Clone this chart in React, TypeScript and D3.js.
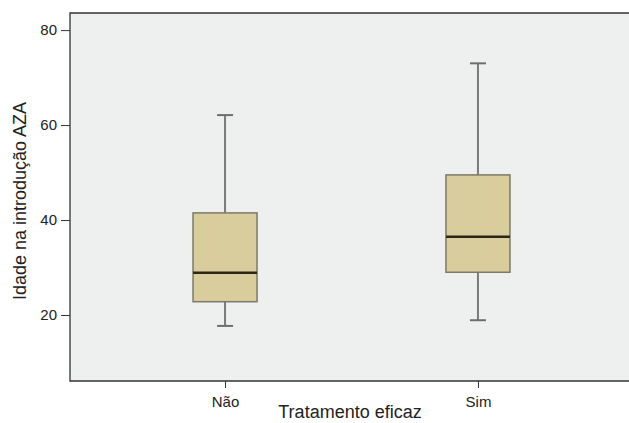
import { useRef, useEffect } from 'react'
import * as d3 from 'd3'

interface BoxStat {
  group: string
  min: number
  q1: number
  median: number
  q3: number
  max: number
}

const GROUPS = ['Não', 'Sim']
const MINS = [17.7, 18.9]
const Q1S = [22.8, 29.0]
const MEDIANS = [28.9, 36.5]
const Q3S = [41.5, 49.5]
const MAXS = [62.1, 73.0]
const Y_TICKS = [20, 40, 60, 80]

const stats: BoxStat[] = GROUPS.map((g, i) => ({
  group: g,
  min: MINS[i],
  q1: Q1S[i],
  median: MEDIANS[i],
  q3: Q3S[i],
  max: MAXS[i],
}))

export default function App() {
  const svgRef = useRef<SVGSVGElement>(null)

  useEffect(() => {
    if (!svgRef.current) return
    const svg = d3.select(svgRef.current)
    svg.selectAll('*').remove()

    const width = 629
    const height = 423
    const left = 70
    const right = 629
    const top = 13
    const bottom = 381
    const font = 'Liberation Sans, Arial, sans-serif'

    const y = d3.scaleLinear().domain([6.1, 83.6]).range([bottom, top])
    const x = d3.scalePoint<string>().domain(GROUPS).range([left, 633]).padding(0.613)
    const boxW = 64
    const capW = 16

    svg.attr('width', width).attr('height', height)

    svg.append('rect')
      .attr('x', left).attr('y', top)
      .attr('width', right - left).attr('height', bottom - top)
      .attr('fill', '#eeefef')

    const g = svg.append('g')

    stats.forEach((d) => {
      const cx = x(d.group)!
      // whiskers
      g.append('line')
        .attr('x1', cx).attr('x2', cx)
        .attr('y1', y(d.max)).attr('y2', y(d.q3))
        .attr('stroke', '#7a7a7a').attr('stroke-width', 2)
      g.append('line')
        .attr('x1', cx).attr('x2', cx)
        .attr('y1', y(d.q1)).attr('y2', y(d.min))
        .attr('stroke', '#7a7a7a').attr('stroke-width', 2)
      ;[d.max, d.min].forEach((v) => {
        g.append('line')
          .attr('x1', cx - capW / 2).attr('x2', cx + capW / 2)
          .attr('y1', y(v)).attr('y2', y(v))
          .attr('stroke', '#6e6e6e').attr('stroke-width', 2)
      })
      // box
      g.append('rect')
        .attr('x', cx - boxW / 2).attr('y', y(d.q3))
        .attr('width', boxW).attr('height', y(d.q1) - y(d.q3))
        .attr('fill', '#d9cd9d')
        .attr('stroke', '#7d7868').attr('stroke-width', 1.5)
      // median
      g.append('line')
        .attr('x1', cx - boxW / 2).attr('x2', cx + boxW / 2)
        .attr('y1', y(d.median)).attr('y2', y(d.median))
        .attr('stroke', '#2b2616').attr('stroke-width', 2.5)
    })

    // frame (left + bottom + top)
    svg.append('path')
      .attr('d', `M${right},${top}H${left}V${bottom}H${right}`)
      .attr('fill', 'none')
      .attr('stroke', '#333').attr('stroke-width', 1.3)

    const yAxis = svg.append('g')
      .attr('transform', `translate(${left},0)`)
      .call(d3.axisLeft(y).tickValues(Y_TICKS).tickSize(9).tickPadding(4))
    yAxis.select('.domain').remove()
    yAxis.selectAll('line').attr('stroke', '#333')
    yAxis.selectAll('text')
      .attr('font-family', font).attr('font-size', 15).attr('fill', '#222')

    const xAxis = svg.append('g')
      .attr('transform', `translate(0,${bottom})`)
      .call(d3.axisBottom(x).tickSize(7).tickPadding(8))
    xAxis.select('.domain').remove()
    xAxis.selectAll('line').attr('stroke', '#333')
    xAxis.selectAll('text')
      .attr('font-family', font).attr('font-size', 15).attr('fill', '#222')

    svg.append('text')
      .attr('x', 350).attr('y', 418)
      .attr('text-anchor', 'middle')
      .attr('font-family', font).attr('font-size', 18).attr('fill', '#222')
      .text('Tratamento eficaz')

    svg.append('text')
      .attr('transform', `translate(26,${(top + bottom) / 2 + 4}) rotate(-90)`)
      .attr('text-anchor', 'middle')
      .attr('font-family', font).attr('font-size', 18).attr('fill', '#222')
      .text('Idade na introdução AZA')
  }, [])

  return <svg ref={svgRef} style={{ position: 'absolute', left: 0, top: 0, background: '#fff' }} />
}
